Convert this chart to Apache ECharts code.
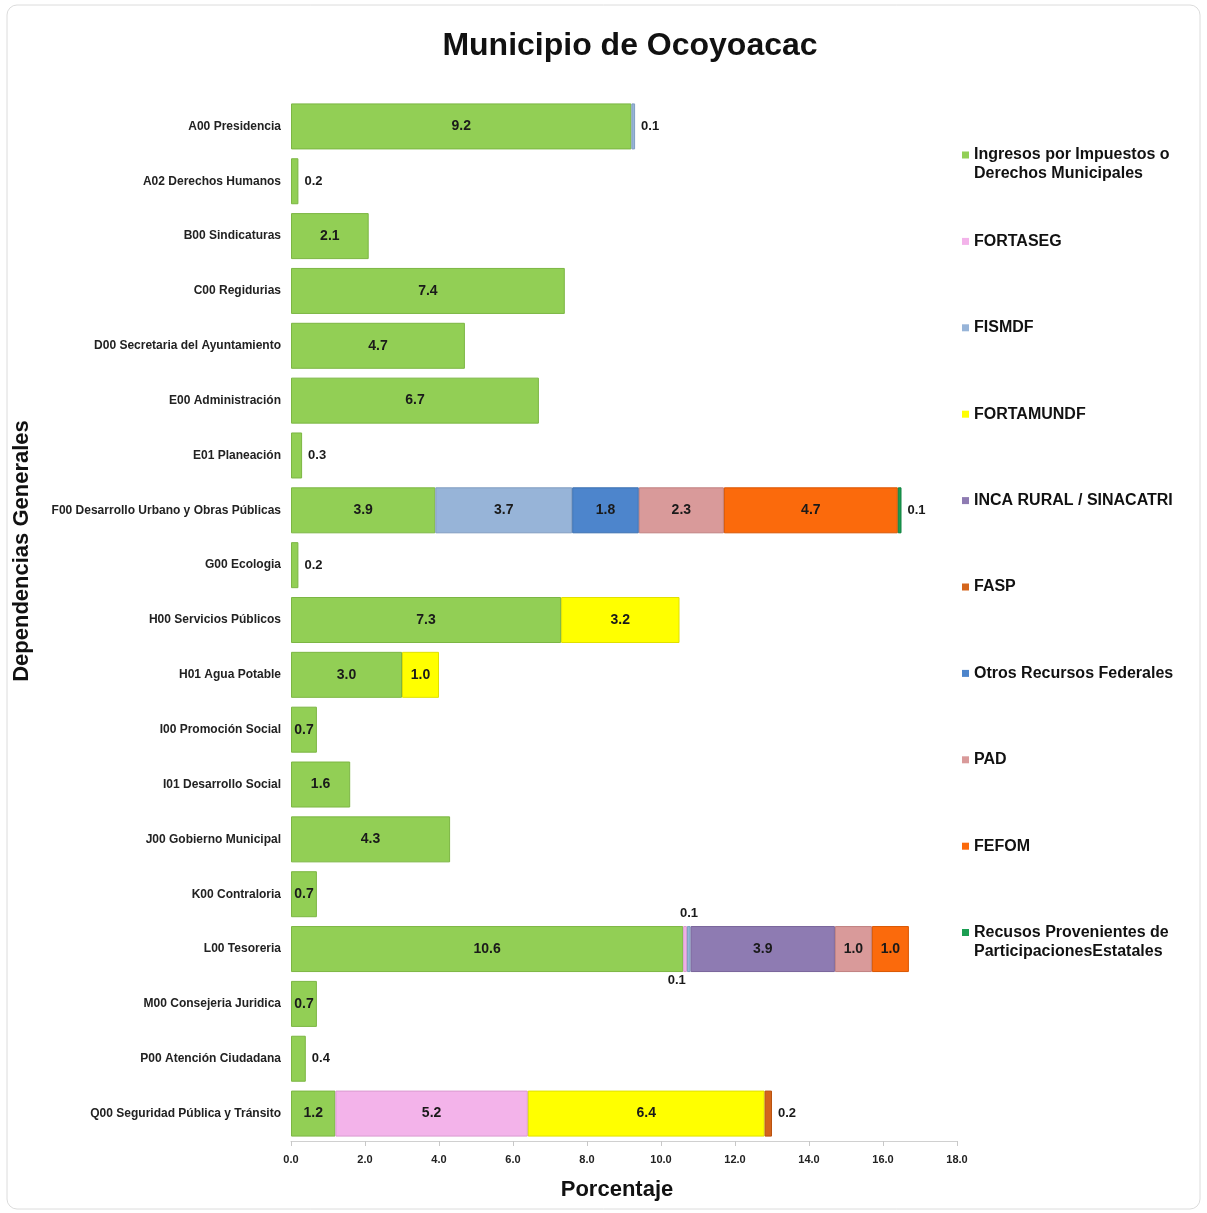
<!DOCTYPE html>
<html>
<head>
<meta charset="utf-8">
<script src="https://cdn.jsdelivr.net/npm/echarts@6/dist/echarts.min.js"></script>
<style>
html,body{margin:0;padding:0;background:#fff;}
#c{width:1207px;height:1213px;}
</style>
</head>
<body>
<div id="c"></div>
<script>
// ---- DATA ----
const categories = [
  'A00 Presidencia','A02 Derechos Humanos','B00 Sindicaturas','C00 Regidurias',
  'D00 Secretaria del Ayuntamiento','E00 Administración','E01 Planeación',
  'F00 Desarrollo Urbano y Obras Públicas','G00 Ecologia','H00 Servicios Públicos',
  'H01 Agua Potable','I00 Promoción Social','I01 Desarrollo Social',
  'J00 Gobierno Municipal','K00 Contraloria','L00 Tesoreria',
  'M00 Consejeria Juridica','P00 Atención Ciudadana','Q00 Seguridad Pública y Tránsito'
];
const seriesNames = [
  'Ingresos por Impuestos o Derechos Municipales','FORTASEG','FISMDF','FORTAMUNDF',
  'INCA RURAL / SINACATRI','FASP','Otros Recursos Federales','PAD','FEFOM',
  'Recusos Provenientes de ParticipacionesEstatales'
];
const legendLabels = [
  'Ingresos por Impuestos o\nDerechos Municipales','FORTASEG','FISMDF','FORTAMUNDF',
  'INCA RURAL / SINACATRI','FASP','Otros Recursos Federales','PAD','FEFOM',
  'Recusos Provenientes de\nParticipacionesEstatales'
];
const ingresos   = [9.2,0.2,2.1,7.4,4.7,6.7,0.3,3.9,0.2,7.3,3.0,0.7,1.6,4.3,0.7,10.6,0.7,0.4,1.2];
const fortaseg   = [0,0,0,0,0,0,0,0,0,0,0,0,0,0,0,0.1,0,0,5.2];
const fismdf     = [0.1,0,0,0,0,0,0,3.7,0,0,0,0,0,0,0,0.1,0,0,0];
const fortamundf = [0,0,0,0,0,0,0,0,0,3.2,1.0,0,0,0,0,0,0,0,6.4];
const incaRural  = [0,0,0,0,0,0,0,0,0,0,0,0,0,0,0,3.9,0,0,0];
const fasp       = [0,0,0,0,0,0,0,0,0,0,0,0,0,0,0,0,0,0,0.2];
const otros      = [0,0,0,0,0,0,0,1.8,0,0,0,0,0,0,0,0,0,0,0];
const pad        = [0,0,0,0,0,0,0,2.3,0,0,0,0,0,0,0,1.0,0,0,0];
const fefom      = [0,0,0,0,0,0,0,4.7,0,0,0,0,0,0,0,1.0,0,0,0];
const recursos   = [0,0,0,0,0,0,0,0.1,0,0,0,0,0,0,0,0,0,0,0];
const xTicks = [0,2,4,6,8,10,12,14,16,18];

const seriesValues = [ingresos,fortaseg,fismdf,fortamundf,incaRural,fasp,otros,pad,fefom,recursos];
const colors  = ['#92CF55','#F3B3EA','#97B4D8','#FFFF00','#8E7BB2','#D4651C','#4D85CC','#D99A9A','#FB6A0C','#1B9E52'];
const borders = ['#7CB643','#D99ACF','#7F9CC0','#E0E000','#77639A','#B9520F','#3A6FB0','#C08080','#DA5500','#10803E'];

// ---- CHART ----
const chart = echarts.init(document.getElementById('c'), null, {renderer:'canvas'});
const FONT = 'Liberation Sans';

function labelFor(seriesIdx, catIdx, v) {
  const base = {show:true, fontFamily:FONT, fontWeight:'bold', color:'#1a1a1a',
    formatter: p => Number(p.value).toFixed(1)};
  if (v >= 0.5) return Object.assign(base, {position:'inside', fontSize:14});
  if (categories[catIdx].startsWith('L00')) {
    if (seriesIdx === 1) return Object.assign(base, {position:'top', fontSize:13, distance:6, offset:[4,0]});
    return Object.assign(base, {position:'bottom', fontSize:13, distance:2, offset:[-12,0]});
  }
  return Object.assign(base, {position:'right', fontSize:13, distance:6});
}

const series = seriesValues.map((arr, si) => ({
  name: seriesNames[si],
  type: 'bar',
  stack: 'total',
  barWidth: 46,
  itemStyle: {color: colors[si], borderColor: borders[si], borderWidth: 1},
  data: arr.map((v, ci) => v > 0 ? {value: v, label: labelFor(si, ci, v)} : '-')
}));

const legends = seriesNames.map((n, i) => {
  const twoLine = legendLabels[i].indexOf('\n') >= 0;
  return {
    data: [{name: n,
      icon: twoLine ? 'path://M0,0H7V0.01H0Z M0,6H7V13H0Z M0,37.99H7V38H0Z' : 'rect',
      itemStyle: {borderWidth: 0}}],
    orient: 'vertical',
    left: 962,
    top: 145.5 + i * 86.4,
    padding: 0,
    itemWidth: 7,
    itemHeight: twoLine ? 38 : 7,
    itemGap: 5,
    selectedMode: false,
    itemStyle: {borderWidth: 0},
    textStyle: {fontFamily: FONT, fontWeight: 'bold', fontSize: 16, color: '#111', lineHeight: 19},
    formatter: name => legendLabels[seriesNames.indexOf(name)]
  };
});

chart.setOption({
  animation: false,
  backgroundColor: '#fff',
  title: {
    text: 'Municipio de Ocoyoacac',
    left: 625, top: 25, textAlign: 'center',
    textStyle: {fontFamily: FONT, fontWeight: 'bold', fontSize: 32, color: '#111'}
  },
  graphic: [{
    type: 'rect', shape: {x: 7, y: 5, width: 1193, height: 1204, r: 10},
    style: {fill: 'none', stroke: '#dcdcdc', lineWidth: 1}, silent: true, z: -1
  }, {
    type: 'text', x: 22, y: 551, rotation: Math.PI / 2,
    style: {text: 'Dependencias Generales', fontFamily: FONT, fontWeight: 'bold', fontSize: 22,
      fill: '#111', align: 'center', verticalAlign: 'middle'}, silent: true
  }, {
    type: 'text', x: 617, y: 1190,
    style: {text: 'Porcentaje', fontFamily: FONT, fontWeight: 'bold', fontSize: 22,
      fill: '#111', align: 'center', verticalAlign: 'middle'}, silent: true
  }],
  legend: legends,
  grid: {left: 291, right: 250, top: 99, bottom: 72},
  xAxis: {
    type: 'value', min: 0, max: 18, interval: 2,
    axisLine: {show: true, lineStyle: {color: '#d0d0d0'}},
    axisTick: {show: true, length: 5, lineStyle: {color: '#c8c8c8'}},
    splitLine: {show: false},
    axisLabel: {fontFamily: FONT, fontWeight: 'bold', fontSize: 11, color: '#222', margin: 13,
      formatter: v => xTicks.indexOf(v) >= 0 ? v.toFixed(1) : ''}
  },
  yAxis: {
    type: 'category', data: categories, inverse: true,
    axisLine: {show: false}, axisTick: {show: false},
    axisLabel: {fontFamily: FONT, fontWeight: 'bold', fontSize: 12, color: '#222', margin: 10}
  },
  series: series
});
</script>
</body>
</html>
